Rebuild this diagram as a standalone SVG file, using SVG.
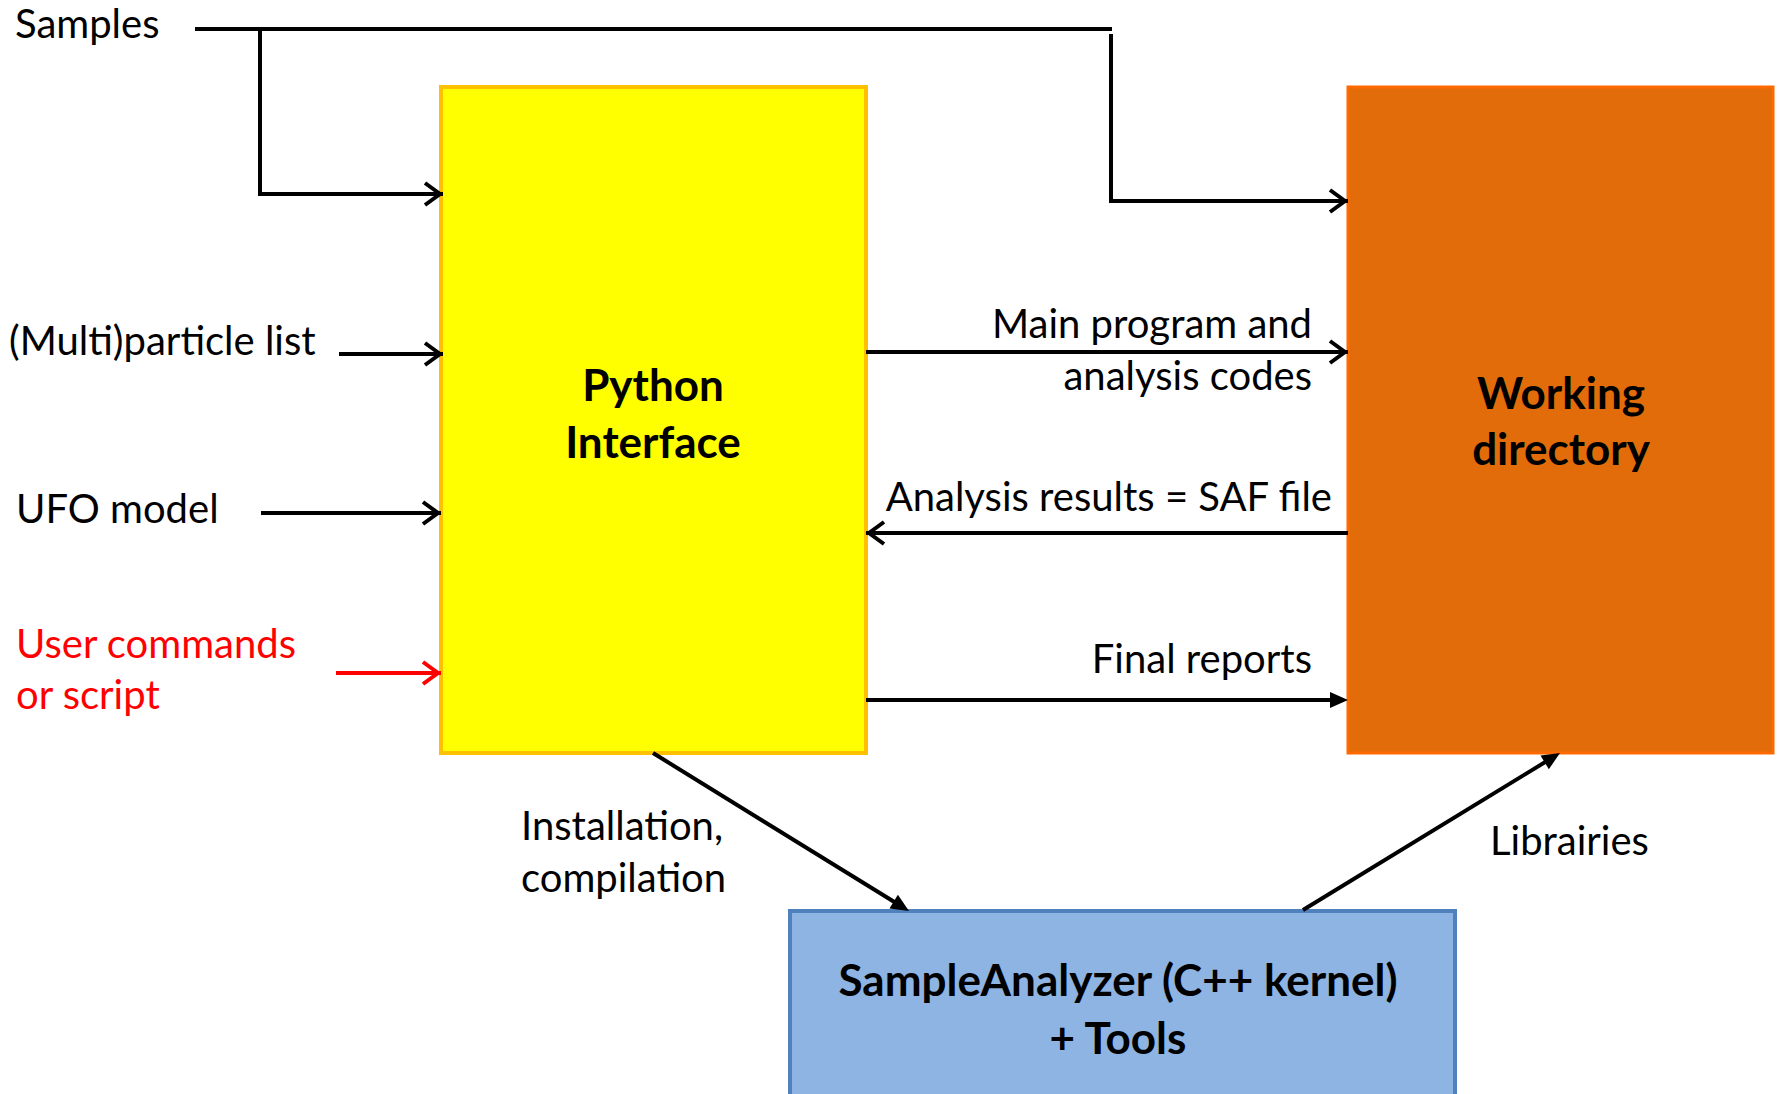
<svg xmlns="http://www.w3.org/2000/svg" width="1777" height="1094" viewBox="0 0 1777 1094">
<style>
.t{font-family:Lato,"Open Sans","Liberation Sans",sans-serif;font-size:40px;fill:#000}
.b{font-family:Lato,"Open Sans","Liberation Sans",sans-serif;font-size:44px;font-weight:bold;fill:#000;text-anchor:middle}
.e{text-anchor:end}
.red{fill:#FF0000}
.ln{fill:none;stroke:#000;stroke-width:4}
</style>
<defs>
<marker id="open" markerUnits="userSpaceOnUse" orient="auto" overflow="visible" markerWidth="1" markerHeight="1" refX="0" refY="0">
<path d="M-18,-11 L-3,0 L-18,11" fill="none" stroke="#000" stroke-width="4"/>
</marker>
<marker id="openRed" markerUnits="userSpaceOnUse" orient="auto" overflow="visible" markerWidth="1" markerHeight="1" refX="0" refY="0">
<path d="M-18,-11 L-3,0 L-18,11" fill="none" stroke="#FF0000" stroke-width="4"/>
</marker>
<marker id="fill" markerUnits="userSpaceOnUse" orient="auto" overflow="visible" markerWidth="1" markerHeight="1" refX="0" refY="0">
<path d="M-8,-8 L10,0 L-8,8 Z" fill="#000"/>
</marker>
</defs>
<g id="python-interface">
<rect x="441" y="87" width="425" height="666" fill="#FFFF00" stroke="#FFC000" stroke-width="4"/>
<text class="b" x="653" y="401">Python</text>
<text class="b" x="653" y="458">Interface</text>
</g>
<g id="working-directory">
<rect x="1348" y="87" width="425" height="666" fill="#E36C0A" stroke="#FF6A00" stroke-width="3"/>
<text class="b" x="1561" y="409">Working</text>
<text class="b" x="1561" y="465">directory</text>
</g>
<g id="sampleanalyzer">
<rect x="790" y="911" width="665" height="200" fill="#8EB4E3" stroke="#4F81BD" stroke-width="4"/>
<text class="b" x="1118" y="996">SampleAnalyzer (C++ kernel)</text>
<text class="b" x="1118" y="1054">+ Tools</text>
</g>
<g id="labels">
<text class="t" x="15" y="38">Samples</text>
<text class="t" x="9" y="355">(Multi)particle list</text>
<text class="t" x="16" y="523">UFO model</text>
<text class="t red" x="16" y="658">User commands</text>
<text class="t red" x="16" y="709">or script</text>
<text class="t e" x="1312" y="338">Main program and</text>
<text class="t e" x="1312" y="390">analysis codes</text>
<text class="t e" x="1332" y="511">Analysis results = SAF file</text>
<text class="t e" x="1312" y="673">Final reports</text>
<text class="t" x="521" y="840">Installation,</text>
<text class="t" x="521" y="892">compilation</text>
<text class="t" x="1490" y="855">Librairies</text>
</g>
<g id="connectors">
<path class="ln" d="M195,29 H1112"/>
<path class="ln" d="M260,29 V194 H443" marker-end="url(#open)"/>
<path class="ln" d="M1111,34 V201 H1348" marker-end="url(#open)"/>
<path class="ln" d="M339,354 H443" marker-end="url(#open)"/>
<path class="ln" d="M261,513 H441" marker-end="url(#open)"/>
<path class="ln" d="M336,673 H441" style="stroke:#FF0000" marker-end="url(#openRed)"/>
<path class="ln" d="M866,352 H1348" marker-end="url(#open)"/>
<path class="ln" d="M1348,533 H866" marker-end="url(#open)"/>
<path class="ln" d="M866,700 H1338" marker-end="url(#fill)"/>
<path class="ln" d="M653,753 L900.5,905.8" marker-end="url(#fill)"/>
<path class="ln" d="M1303,910 L1551.5,758.2" marker-end="url(#fill)"/>
</g>
</svg>
